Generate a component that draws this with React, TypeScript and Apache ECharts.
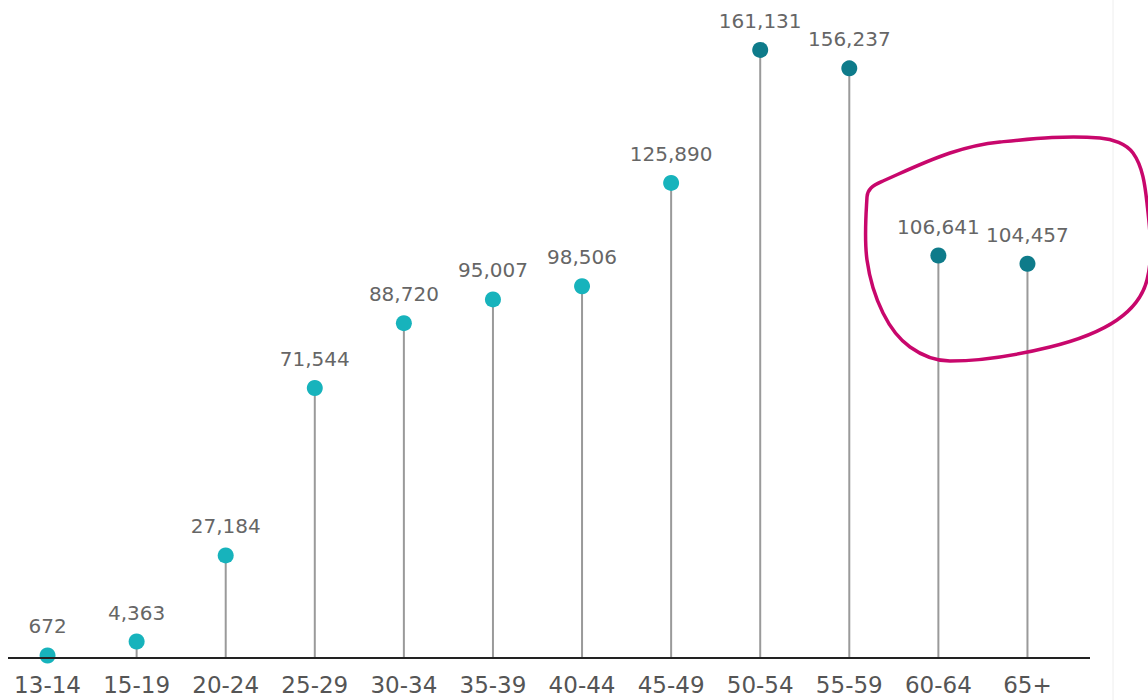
import React, { useEffect, useRef } from "react";
import * as echarts from "echarts";

const categories = ["13-14", "15-19", "20-24", "25-29", "30-34", "35-39", "40-44", "45-49", "50-54", "55-59", "60-64", "65+"];
const values = [672, 4363, 27184, 71544, 88720, 95007, 98506, 125890, 161131, 156237, 106641, 104457];
const tones = ["light", "light", "light", "light", "light", "light", "light", "light", "dark", "dark", "dark", "dark"];

const LIGHT = "#17b3bc";
const DARK = "#0e7b8a";

export default function App() {
  const ref = useRef<HTMLDivElement>(null);
  useEffect(() => {
    document.body.style.margin = "0";
    const chart = echarts.init(ref.current!, null, { renderer: "svg" });
    chart.setOption({
      animation: false,
      backgroundColor: "#ffffff",
      grid: { left: 3, right: 76, top: 10, bottom: 42 },
      xAxis: {
        type: "category",
        data: categories,
        axisLine: { show: false },
        axisTick: { show: false },
        axisLabel: { fontSize: 23, color: "#555", margin: 15, fontFamily: "DejaVu Sans", interval: 0 },
      },
      yAxis: {
        type: "value",
        min: 0,
        max: 171700,
        show: false,
        splitLine: { show: false },
      },
      series: [
        {
          type: "bar",
          data: values,
          barWidth: 2,
          itemStyle: { color: "#9a9a9a" },
          silent: true,
        },
        {
          type: "scatter",
          data: values.map((v, i) => ({ value: v, itemStyle: { color: tones[i] === "dark" ? DARK : LIGHT, opacity: 1 } })),
          symbolSize: 16,
          z: 5,
          label: {
            show: true,
            position: "top",
            distance: 11,
            fontSize: 20,
            color: "#666",
            fontFamily: "DejaVu Sans",
            formatter: (p: any) => Number(p.value).toLocaleString("en-US"),
          },
        },
      ],
      graphic: [
        {
          type: "line",
          shape: { x1: 1113, y1: 0, x2: 1113, y2: 700 },
          style: { stroke: "#eeeeee", lineWidth: 1 },
          silent: true,
        },
        {
          type: "line",
          shape: { x1: 8, y1: 658, x2: 1090, y2: 658 },
          style: { stroke: "#222", lineWidth: 2 },
          silent: true,
          z: 10,
        },
        {
          type: "polygon",
          shape: {
            smooth: 0.35,
            points: [
              [871, 188],
              [883, 181],
              [950, 153],
              [1000, 142],
              [1100, 138],
              [1133, 153],
              [1147, 203],
              [1147, 280],
              [1117, 320],
              [1050, 347],
              [950, 361],
              [910, 347],
              [883, 313],
              [867, 260],
              [867, 197],
            ],
          },
          style: { fill: "none", stroke: "#c8076c", lineWidth: 3.5 },
          silent: true,
          z: 100,
        },
      ],
    });
    return () => chart.dispose();
  }, []);
  return <div ref={ref} style={{ position: "fixed", left: 0, top: 0, width: 1148, height: 700 }} />;
}
